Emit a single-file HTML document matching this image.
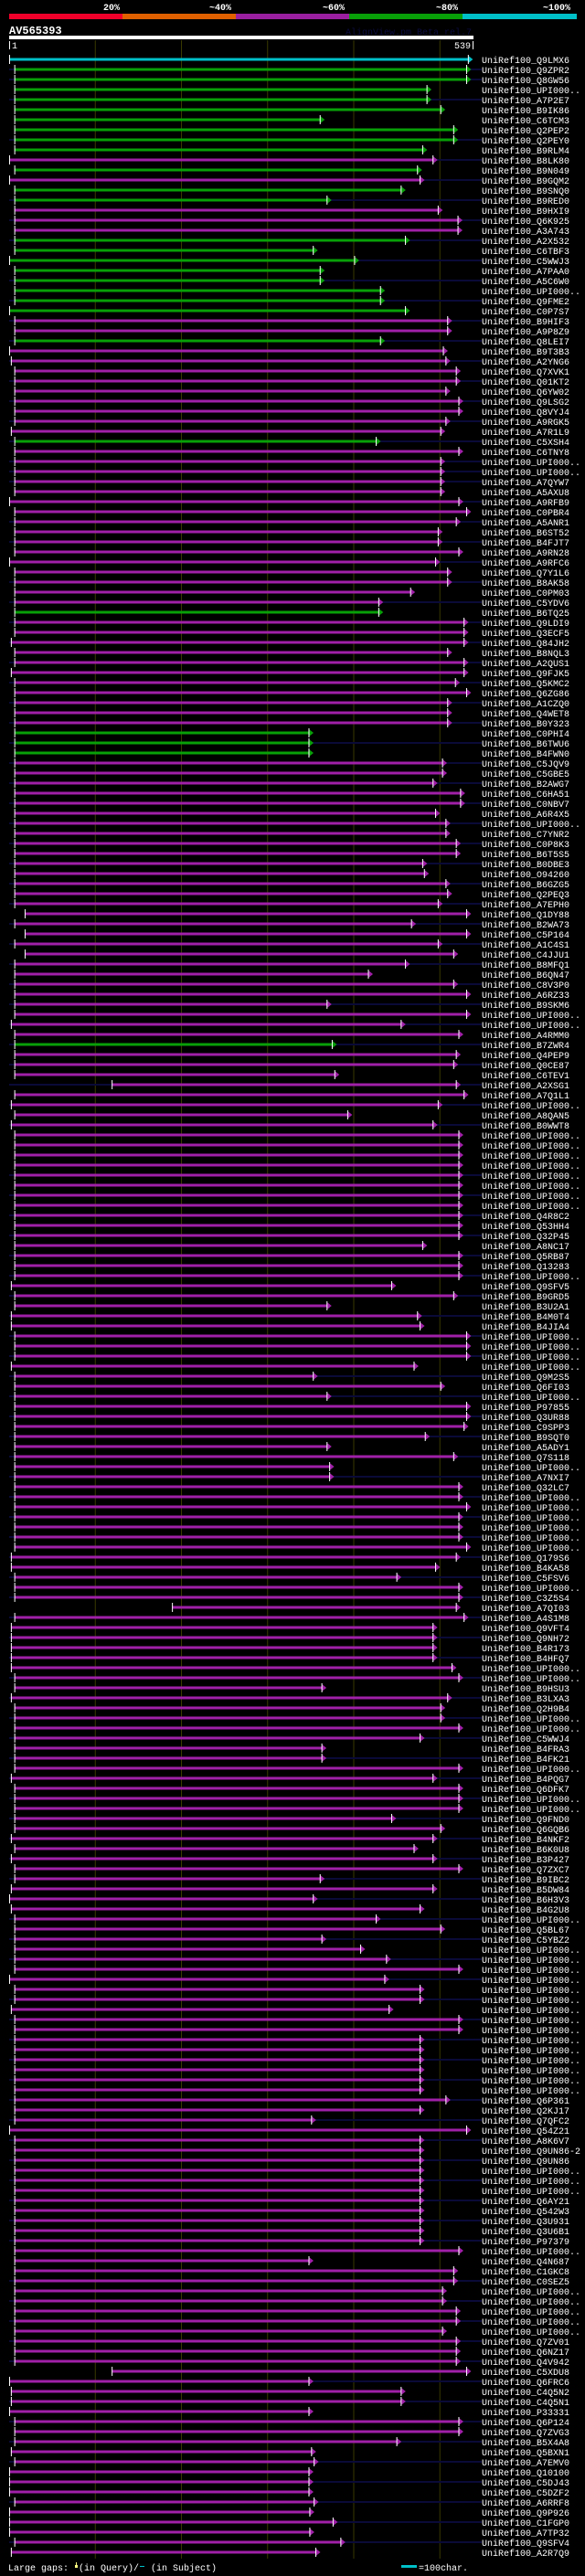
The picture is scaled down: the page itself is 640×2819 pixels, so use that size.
<!DOCTYPE html>
<html><head><meta charset="utf-8"><title>AV565393 alignment view</title>
<style>
html,body{margin:0;padding:0;background:#000;}
svg{display:block;}
text{font-family:"Liberation Mono","DejaVu Sans Mono",monospace;}
</style></head>
<body>
<svg id="chart" xmlns="http://www.w3.org/2000/svg" width="640" height="2819" viewBox="0 0 640 2819">
<rect x="0" y="0" width="640" height="2819" fill="#000"/>
<g>
 <rect x="10" y="15" width="124" height="6" fill="#f0002a"/>
 <rect x="134" y="15" width="124" height="6" fill="#e06000"/>
 <rect x="258" y="15" width="124" height="6" fill="#9a1fa0"/>
 <rect x="382" y="15" width="124" height="6" fill="#08a008"/>
 <rect x="506" y="15" width="125" height="6" fill="#00c0c8"/>
 <text x="113" y="11" fill="#fff" font-size="10" font-weight="bold">20%</text>
 <text x="229" y="11" fill="#fff" font-size="10" font-weight="bold">~40%</text>
 <text x="353" y="11" fill="#fff" font-size="10" font-weight="bold">~60%</text>
 <text x="477" y="11" fill="#fff" font-size="10" font-weight="bold">~80%</text>
 <text x="594" y="11" fill="#fff" font-size="10" font-weight="bold">~100%</text>
</g>
<text x="10" y="37" fill="#fff" font-size="12" font-weight="bold">AV565393</text>
<text x="516" y="38" fill="#0c0c40" font-size="10" text-anchor="end">AlignView.pm Beta rel.7</text>
<rect x="10" y="39" width="508" height="4" fill="#fff"/>
<rect x="10" y="45" width="1" height="9" fill="#fff"/>
<text x="13" y="53" fill="#fff" font-size="10">1</text>
<rect x="517" y="45" width="1" height="9" fill="#fff"/>
<text x="515" y="53" fill="#fff" font-size="10" text-anchor="end">539</text>
<g id="grid"></g>
<g id="rows"></g>
<g>
 <text x="9" y="2813" fill="#fff" font-size="10">Large gaps:</text>
 <rect x="82" y="2807" width="3" height="3" fill="#ffff80"/>
 <rect x="83" y="2804" width="1" height="3" fill="#ffff80"/>
 <text x="86" y="2813" fill="#fff" font-size="10">(in Query)/</text>
 <rect x="153" y="2808" width="5" height="1" fill="#00c0c8"/>
 <text x="165" y="2813" fill="#fff" font-size="10">(in Subject)</text>
 <rect x="439" y="2807" width="17" height="3" fill="#00c0c8"/>
 <text x="458" y="2813" fill="#fff" font-size="10">=100char.</text>
</g>
</svg>
<script>
const queryLength = 539;
const gridTicks = [100, 200, 300, 400, 500];
const labels = ["Q9LMX6","Q9ZPR2","Q8GW56","UPI000..","A7P2E7","B9IK86","C6TCM3","Q2PEP2","Q2PEY0","B9RLM4",
"B8LK80","B9N049","B9GQM2","B9SNQ0","B9RED0","B9HXI9","Q6K925","A3A743","A2X532","C6TBF3",
"C5WWJ3","A7PAA0","A5C6W0","UPI000..","Q9FME2","C0P7S7","B9HIF3","A9P8Z9","Q8LEI7","B9T3B3",
"A2YNG6","Q7XVK1","Q01KT2","Q6YW02","Q9LSG2","Q8VYJ4","A9RGK5","A7R1L9","C5XSH4","C6TNY8",
"UPI000..","UPI000..","A7QYW7","A5AXU8","A9RFB9","C0PBR4","A5ANR1","B6ST52","B4FJT7","A9RN28",
"A9RFC6","Q7Y1L6","B8AK58","C0PM03","C5YDV6","B6TQ25","Q9LDI9","Q3ECF5","Q84JH2","B8NQL3",
"A2QUS1","Q9FJK5","Q5KMC2","Q6ZG86","A1CZQ0","Q4WET8","B0Y323","C0PHI4","B6TWU6","B4FWN0",
"C5JQV9","C5GBE5","B2AWG7","C6HA51","C0NBV7","A6R4X5","UPI000..","C7YNR2","C0P8K3","B6T5S5",
"B0DBE3","O94260","B6GZG5","Q2PEQ3","A7EPH0","Q1DY88","B2WA73","C5P164","A1C4S1","C4JJU1",
"B8MFQ1","B6QN47","C8V3P0","A6RZ33","B9SKM6","UPI000..","UPI000..","A4RMM0","B7ZWR4","Q4PEP9",
"Q0CE87","C6TEV1","A2XSG1","A7Q1L1","UPI000..","A8QAN5","B0WWT8","UPI000..","UPI000..","UPI000..",
"UPI000..","UPI000..","UPI000..","UPI000..","UPI000..","Q4R8C2","Q53HH4","Q32P45","A8NC17","Q5RB87",
"Q13283","UPI000..","Q9SFV5","B9GRD5","B3U2A1","B4M0T4","B4JIA4","UPI000..","UPI000..","UPI000..",
"UPI000..","Q9M2S5","Q6FI03","UPI000..","P97855","Q3UR88","C9SPP3","B9SQT0","A5ADY1","Q7S118",
"UPI000..","A7NXI7","Q32LC7","UPI000..","UPI000..","UPI000..","UPI000..","UPI000..","UPI000..","Q179S6",
"B4KA58","C5FSV6","UPI000..","C3Z5S4","A7QI03","A4S1M8","Q9VFT4","Q9NH72","B4R173","B4HFQ7",
"UPI000..","UPI000..","B9HSU3","B3LXA3","Q2H9B4","UPI000..","UPI000..","C5WWJ4","B4FRA3","B4FK21",
"UPI000..","B4PQG7","Q6DFK7","UPI000..","UPI000..","Q9FND0","Q6GQB6","B4NKF2","B6K0U8","B3P427",
"Q7ZXC7","B9IBC2","B5DW84","B6H3V3","B4G2U8","UPI000..","Q5BL67","C5YBZ2","UPI000..","UPI000..",
"UPI000..","UPI000..","UPI000..","UPI000..","UPI000..","UPI000..","UPI000..","UPI000..","UPI000..","UPI000..",
"UPI000..","UPI000..","UPI000..","Q6P361","Q2KJ17","Q7QFC2","Q54Z21","A8K6V7","Q9UN86-2","Q9UN86",
"UPI000..","UPI000..","UPI000..","Q6AY21","Q542W3","Q3U931","Q3U6B1","P97379","UPI000..","Q4N687",
"C1GKC8","C0SEZ5","UPI000..","UPI000..","UPI000..","UPI000..","UPI000..","Q7ZV01","Q6NZ17","Q4V942",
"C5XDU8","Q6FRC6","C4Q5N2","C4Q5N1","P33331","Q6P124","Q7ZVG3","B5X4A8","Q5BXN1","A7EMV0",
"Q10100","C5DJ43","C5DZF2","A6RRF8","Q9P926","C1FGP0","A7TP32","Q9SFV4","A2R7Q9"];
// identity class per row: c=~100%, g=~80%, m=~60%
const identity = "cggggggggg"+"mgmggmmmgg"+"ggggggmmgm"+"mmmmmmmmgm"+"mmmmmmmmmm"+"mmmmmgmmmm"+"mmmmmmmggg"+"mmmmmmmmmm"+"mmmmmmmmmm"+"mmmmmmmmgm"+"mmmmmmmmmm"+"mmmmmmmmmm"+"mmmmmmmmmm"+"mmmmmmmmmm"+"mmmmmmmmmm"+"mmmmmmmmmm"+"mmmmmmmmmm"+"mmmmmmmmmm"+"mmmmmmmmmm"+"mmmmmmmmmm"+"mmmmmmmmmm"+"mmmmmmmmmm"+"mmmmmmmmmm"+"mmmmmmmmmm"+"mmmmmmmmm";
const starts = [0,6,6,6,6,6,6,6,6,6, 0,6,0,6,6,6,6,6,6,6, 0,6,6,6,6,0,6,6,6,0,
2,6,6,6,6,6,6,2,6,6, 6,6,6,6,0,6,6,6,6,6, 0,6,6,6,6,6,6,6,2,6,
6,2,6,6,6,6,6,6,6,6, 6,6,6,6,6,6,6,6,6,6, 6,6,6,6,6,18,6,18,6,18,
6,6,6,6,6,6,2,6,6,6, 6,6,119,6,2,6,2,6,6,6, 6,6,6,6,6,6,6,6,6,6,
6,6,2,6,6,2,2,6,6,6, 2,6,6,6,6,6,6,6,6,6, 6,6,6,6,6,6,6,6,6,2,
2,6,6,6,189,6,2,2,2,2, 2,6,6,2,6,6,6,6,6,6, 6,2,6,6,6,6,6,2,6,2,
6,6,2,0,2,6,6,6,6,6, 6,0,6,6,2,6,6,6,6,6, 6,6,6,6,6,6,0,6,6,6,
6,6,6,6,6,6,6,6,6,6, 6,6,6,6,6,6,6,6,6,6, 119,0,2,2,0,6,6,6,2,6,
0,0,0,6,0,0,0,6,2];
const ends = [533,531,531,485,485,501,361,516,516,480, 492,474,477,455,369,498,521,521,460,353,
401,361,361,431,431,460,509,509,431,504, 507,519,519,507,522,522,507,501,426,522,
501,501,501,501,522,531,519,498,498,522, 495,509,509,466,429,429,528,528,528,509,
528,528,518,531,509,509,509,348,348,348, 503,503,492,524,524,495,507,507,519,519,
480,482,507,509,498,531,467,531,498,516, 460,417,516,531,369,531,455,522,375,519,
516,378,519,528,498,393,492,522,522,522, 522,522,522,522,522,522,522,522,480,522,
522,522,444,516,369,474,477,531,531,531, 470,353,501,369,531,531,528,483,369,516,
372,372,522,522,531,522,522,522,531,519, 495,450,522,522,519,528,492,492,492,492,
514,522,363,509,501,501,522,477,363,363, 522,492,522,522,522,444,501,492,470,492,
522,361,492,353,477,426,501,363,408,438, 522,436,477,477,441,522,522,477,477,477,
477,477,477,507,477,351,531,477,477,477, 477,477,477,477,477,477,477,477,522,348,
516,516,503,503,519,519,503,519,519,519, 531,348,455,455,348,522,522,450,351,354,
348,348,348,354,349,376,349,385,356];
// 1 = subject extends beyond alignment (dark extension drawn)
const subjectLonger = "0110100010"+"1010101010"+"1010101010"+"1010101010"+"1110101010"+"1010101010"+"1010101010"+"1010101010"+"1010101010"+"1010101010"+"1010101000"+"0101010101"+"0101010101"+"0101010101"+"0101010101"+"0101010101"+"0101010101"+"0101010101"+"0101010101"+"0101010101"+"0101010101"+"0101010100"+"0101010101"+"0101010101"+"010101010";

const NS = "http://www.w3.org/2000/svg";
const X0 = 10, PX = 508 / queryLength, ROW0 = 65, STEP = 11, LABEL_X = 527;
const COLORS = {c:"#00c0c8", g:"#08a008", m:"#a020a8"};
function xScale(c){ return X0 + c * PX; }
function yScale(i){ return ROW0 + i * STEP; }
function mk(tag, attrs){ const e = document.createElementNS(NS, tag); for (const k in attrs) e.setAttribute(k, attrs[k]); return e; }

const grid = document.getElementById("grid");
gridTicks.forEach(t => {
  const l = mk("line", {x1: xScale(t), x2: xScale(t), y1: 44, y2: 2800, stroke: "#3a3a00", "stroke-width": 1});
  
  
  grid.appendChild(l);
});

const rowsG = document.getElementById("rows");
labels.forEach((lab, i) => {
  const y = yScale(i);
  const col = COLORS[identity[i]] || COLORS.m;
  const g = mk("g", {});
  
  
  const xs = xScale(starts[i]), xe = xScale(ends[i]);
  if (subjectLonger[i] === "1") {
    const ext = mk("rect", {x: X0, y: y - 1, width: LABEL_X - X0, height: 2, fill: "#0a0a38"});
    
    
    g.appendChild(ext);
  }
  const bar = mk("rect", {x: xs, y: y - 1.5, width: Math.max(0, xe - xs), height: 3, fill: col});
  
  
  g.appendChild(bar);
  const tick = mk("rect", {x: xs, y: y - 5, width: 1, height: 10, fill: "#fff"});
  
  
  g.appendChild(tick);
  const arrow = mk("polygon", {points: `${xe},${y-4} ${xe+5},${y} ${xe},${y+4}`, fill: col});
  
  
  g.appendChild(arrow);
  const aline = mk("rect", {x: xe - 0.5, y: y - 5, width: 1, height: 10, fill: "#fff"});
  
  
  g.appendChild(aline);
  const t = mk("text", {x: LABEL_X, y: y + 4, fill: "#fff", "font-size": 10});
  t.textContent = "UniRef100_" + lab;
  
  
  g.appendChild(t);
  rowsG.appendChild(g);
});
</script>
</body></html>
